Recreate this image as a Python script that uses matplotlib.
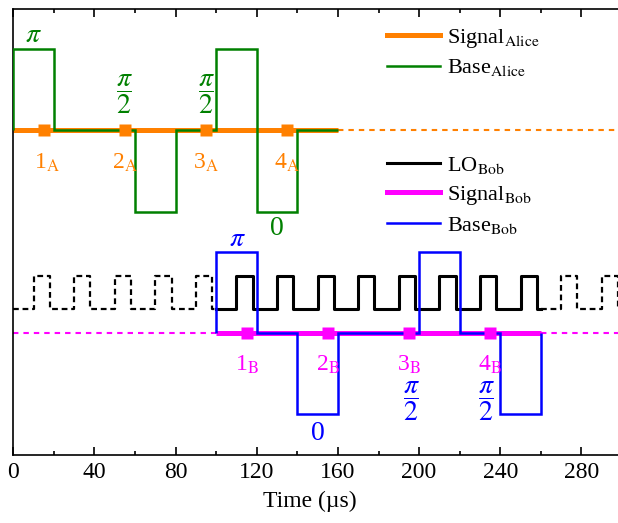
import numpy as np
import matplotlib
matplotlib.use('Agg')
import matplotlib.pyplot as plt
from matplotlib.lines import Line2D

plt.rcParams['font.family'] = ['Liberation Serif', 'DejaVu Serif']
plt.rcParams['mathtext.fontset'] = 'stix'

PI = np.pi

# ---------------- data ----------------
alice_slot_edges = [0, 20, 40, 60, 80, 100, 120, 140, 160]
alice_base = [PI, PI / 2, PI / 2, 0, PI / 2, PI, 0, PI / 2]
alice_pulse_t = [15, 55, 95, 135]
alice_pulse_names = [r'1$_\mathrm{A}$', r'2$_\mathrm{A}$', r'3$_\mathrm{A}$', r'4$_\mathrm{A}$']
alice_base_labels = [r'$\pi$', r'$\dfrac{\pi}{2}$', r'$\dfrac{\pi}{2}$', '0']
alice_signal_on = [0, 160]

bob_slot_edges = [100, 120, 140, 160, 180, 200, 220, 240, 260]
bob_base = [PI, PI / 2, 0, PI / 2, PI / 2, PI, PI / 2, 0]
bob_pulse_t = [115, 155, 195, 235]
bob_pulse_names = [r'1$_\mathrm{B}$', r'2$_\mathrm{B}$', r'3$_\mathrm{B}$', r'4$_\mathrm{B}$']
bob_base_labels = [r'$\pi$', '0', r'$\dfrac{\pi}{2}$', r'$\dfrac{\pi}{2}$']
bob_signal_on = [100, 260]

lo_rise = [10, 30, 50, 70, 90, 110, 130, 150, 170, 190, 210, 230, 250, 270, 290]
lo_fall = [18, 38, 58, 78, 98, 118, 138, 158, 178, 198, 218, 238, 258, 278, 298]
lo_on = [100, 260]

time_range = [0, 300]
x_ticks = [0, 40, 80, 120, 160, 200, 240, 280]

# ---------------- layout ----------------
ALICE_MID, ALICE_AMP = 325.0, 81.5
BOB_MID, BOB_AMP = 122.0, 81.0
LO_LOW, LO_HIGH = 146.0, 179.0

alice_lab_dx = [-5.3, 0, 0, -5]
alice_lab_dy = [13, 36, 36, -17]
bob_lab_dx = [-4.3, -5, 1, -2]
bob_lab_dy = [12, -19, -68, -68]

ORANGE = '#FF8000'
GREEN = '#008000'
BLUE = '#0000FF'
MAGENTA = '#FF00FF'

FS = 17      # ticks, axis label, pulse names
LEGFS = 16   # legend
LFS = 20     # phase labels


def level(phase, mid, amp):
    return mid + (phase / (PI / 2) - 1) * amp


def lo_wave(t0, t1):
    events = sorted([(r, LO_HIGH) for r in lo_rise if t0 <= r < t1] +
                    [(f, LO_LOW) for f in lo_fall if t0 <= f < t1])
    cur = LO_LOW
    xs, ys = [t0], [cur]
    for t, lv in events:
        xs += [t, t]
        ys += [cur, lv]
        cur = lv
    xs.append(t1)
    ys.append(cur)
    return xs, ys


fig = plt.figure(figsize=(6.18, 5.23), dpi=100)
ax = fig.add_axes([13.3 / 618, 68 / 523, 608.7 / 618, 446.3 / 523])
ax.set_xlim(*time_range)
ax.set_ylim(0, 446.3)

# ---- Alice ----
ax.plot(alice_signal_on, [ALICE_MID] * 2, color=ORANGE, lw=3.6, solid_capstyle='butt', zorder=2)
ax.plot([alice_signal_on[1], time_range[1]], [ALICE_MID] * 2, color=ORANGE, lw=1.5,
        dashes=(2.6, 2.4), zorder=2)
alice_levels = [level(p, ALICE_MID, ALICE_AMP) for p in alice_base]
ax.stairs(alice_levels, alice_slot_edges, baseline=ALICE_MID, color=GREEN, lw=1.8, zorder=3)
ax.plot(alice_pulse_t, [ALICE_MID] * len(alice_pulse_t), 's', color=ORANGE, ms=8.5, zorder=4,
        mec='none')

for i, t in enumerate(alice_pulse_t):
    dxn = 1.5 if i == 0 else 0
    ax.text(t + dxn, ALICE_MID - 33, alice_pulse_names[i], color=ORANGE, fontsize=FS,
            ha='center', va='center')
    slot = np.searchsorted(alice_slot_edges, t) - 1
    lv = alice_levels[slot]
    ax.text(t + alice_lab_dx[i], lv + alice_lab_dy[i], alice_base_labels[i], color=GREEN,
            fontsize=LFS, ha='center', va='center')

# ---- Bob ----
for seg, ls in [((time_range[0], lo_on[0]), 'dash'), (tuple(lo_on), 'solid'),
                ((lo_on[1], time_range[1]), 'dash')]:
    xs, ys = lo_wave(*seg)
    if ls == 'solid':
        ax.plot(xs, ys, color='black', lw=2.2, zorder=2)
    else:
        ax.plot(xs, ys, color='black', lw=1.6, dashes=(2.6, 1.7), zorder=2)

ax.plot(bob_signal_on, [BOB_MID] * 2, color=MAGENTA, lw=3.6, solid_capstyle='butt', zorder=2)
ax.plot([time_range[0], bob_signal_on[0]], [BOB_MID] * 2, color=MAGENTA, lw=1.5,
        dashes=(2.6, 2.4), zorder=2)
ax.plot([bob_signal_on[1], time_range[1]], [BOB_MID] * 2, color=MAGENTA, lw=1.5,
        dashes=(2.6, 2.4), zorder=2)
bob_levels = [level(p, BOB_MID, BOB_AMP) for p in bob_base]
ax.stairs(bob_levels, bob_slot_edges, baseline=BOB_MID, color=BLUE, lw=1.8, zorder=3)
ax.plot(bob_pulse_t, [BOB_MID] * len(bob_pulse_t), 's', color=MAGENTA, ms=8.5, zorder=4,
        mec='none')

for i, t in enumerate(bob_pulse_t):
    ax.text(t, BOB_MID - 32, bob_pulse_names[i], color=MAGENTA, fontsize=FS,
            ha='center', va='center')
    slot = np.searchsorted(bob_slot_edges, t) - 1
    lv = bob_levels[slot]
    ax.text(t + bob_lab_dx[i], lv + bob_lab_dy[i], bob_base_labels[i], color=BLUE,
            fontsize=LFS, ha='center', va='center')

# ---- legends ----
h_alice = [Line2D([], [], color=ORANGE, lw=3.6), Line2D([], [], color=GREEN, lw=1.8)]
l_alice = [r'Signal$_\mathrm{Alice}$', r'Base$_\mathrm{Alice}$']
fig.legend(h_alice, l_alice, loc='center left', bbox_to_anchor=(386.7 / 618, 1 - 52.5 / 523),
           bbox_transform=fig.transFigure, frameon=False, fontsize=LEGFS, borderpad=0,
           borderaxespad=0, handlelength=2.4, handletextpad=0.3, labelspacing=0.35)
h_bob = [Line2D([], [], color='black', lw=2.2), Line2D([], [], color=MAGENTA, lw=3.6),
         Line2D([], [], color=BLUE, lw=1.8)]
l_bob = [r'LO$_\mathrm{Bob}$', r'Signal$_\mathrm{Bob}$', r'Base$_\mathrm{Bob}$']
fig.legend(h_bob, l_bob, loc='center left', bbox_to_anchor=(386.7 / 618, 1 - 195.5 / 523),
           bbox_transform=fig.transFigure, frameon=False, fontsize=LEGFS, borderpad=0,
           borderaxespad=0, handlelength=2.4, handletextpad=0.3, labelspacing=0.35)

# ---- axes styling ----
ax.set_xticks(x_ticks)
ax.set_xticks(np.arange(20, 300, 40), minor=True)
ax.set_yticks([])
ax.tick_params(axis='x', which='both', direction='in', top=True, labelsize=FS, pad=5, width=1.2)
ax.tick_params(axis='x', which='major', length=6)
ax.tick_params(axis='x', which='minor', length=3)
for s in ax.spines.values():
    s.set_linewidth(1.2)
ax.set_xlabel('Time (µs)', fontsize=FS)
ax.xaxis.set_label_coords((310 - 13.3) / 608.7, -0.08)

fig.savefig('out.png', dpi=100)
